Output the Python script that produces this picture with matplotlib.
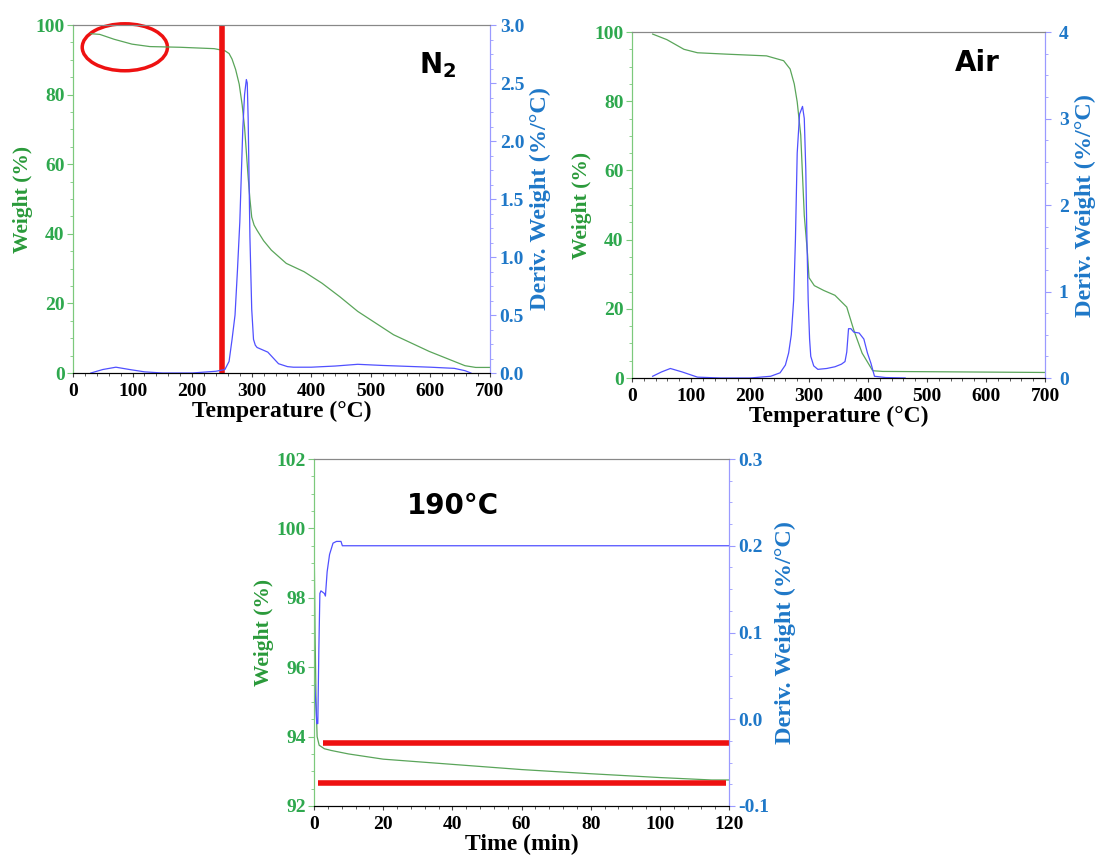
import numpy as np
import matplotlib.pyplot as plt
from matplotlib.patches import Ellipse
from matplotlib.ticker import MultipleLocator

plt.rcParams['font.family'] = ['Liberation Serif', 'DejaVu Serif']

# ---- N2 ----
n2_t = [30, 45, 69, 99, 129, 180, 237, 255, 262, 267, 273, 279, 284, 288, 291, 294, 297,
        300, 304, 309, 320, 333, 358, 388, 418, 448, 478, 538, 598, 658, 676, 700]
n2_w = [97.5, 97.3, 95.9, 94.5, 93.8, 93.6, 93.2, 92.6, 91.8, 90.2, 87.2, 83, 77, 70.6,
        63.5, 56.3, 50, 44.8, 42.5, 41, 38, 35.3, 31.5, 29.1, 25.8, 21.9, 17.7, 11, 6.2,
        2.1, 1.6, 1.6]
n2_dt = [30, 50, 72, 95, 120, 150, 200, 240, 255, 262, 267, 272, 276, 280, 285, 288, 291,
         292.5, 294, 297, 300, 303, 306, 309, 318, 327, 336, 345, 360, 370, 400, 440, 478,
         520, 600, 640, 658, 668, 676, 680]
n2_d = [0.0, 0.03, 0.05, 0.03, 0.01, 0.0, 0.0, 0.015, 0.03, 0.1, 0.29, 0.5, 0.88, 1.3,
        2.1, 2.4, 2.53, 2.5, 2.2, 1.17, 0.55, 0.29, 0.24, 0.22, 0.2, 0.18, 0.13, 0.08,
        0.055, 0.05, 0.05, 0.06, 0.075, 0.065, 0.05, 0.04, 0.02, 0.0, -0.03, -0.04]

# ---- Air ----
air_t = [35, 59, 88, 111, 160, 228, 257, 268, 275, 280, 286, 292, 297.5, 300, 309, 325, 344,
         364, 376, 390, 408, 425, 700]
air_w = [99.4, 97.8, 95, 94, 93.6, 93.1, 91.7, 89.3, 85, 79.8, 70.2, 47, 35.8, 29, 26.7,
         25.3, 23.9, 20.5, 13.8, 7.2, 2.1, 1.9, 1.6]
air_dt = [35, 50, 65, 85, 111, 150, 200, 235, 251, 260, 265.5, 270, 274, 277, 280, 284, 289,
          292, 294.6, 296.5, 298.6, 301, 303, 308, 315, 330, 344, 355, 361, 364, 367, 371,
          376, 385, 393, 399, 405, 411, 430, 463]
air_d = [0.02, 0.07, 0.11, 0.07, 0.01, 0.0, 0.0, 0.02, 0.06, 0.15, 0.29, 0.5, 0.9, 1.6,
         2.6, 3.05, 3.14, 3.0, 2.4, 1.6, 0.9, 0.45, 0.25, 0.14, 0.1, 0.11, 0.13, 0.16, 0.19,
         0.3, 0.57, 0.57, 0.53, 0.52, 0.45, 0.29, 0.17, 0.02, 0.005, 0.0]

# ---- 190 C isotherm ----
iso_t = [0, 0.3, 0.6, 0.9, 1.5, 3, 5, 10, 20, 40, 60, 80, 100, 115, 120]
iso_w = [100, 97, 95, 94, 93.75, 93.65, 93.6, 93.5, 93.35, 93.2, 93.05, 92.93, 92.82,
         92.75, 92.75]
iso_dt = [0.2, 0.5, 0.8, 1.1, 1.4, 1.7, 2.0, 3.0, 3.3, 3.8, 4.5, 5.5, 6.5, 7.8, 8.2, 120]
iso_d = [0.04, 0.02, -0.005, -0.005, 0.08, 0.145, 0.148, 0.145, 0.142, 0.17, 0.19, 0.203,
         0.205, 0.205, 0.2, 0.2]

green = '#2ea84e'
blue = '#1f78c8'
gline = '#5aa55a'
bline = '#5050ff'

W, H = 1102, 860
fig = plt.figure(figsize=(W / 100, H / 100), dpi=100)


def make_axes(rect, xlim, xstep, ylim, ystep, y2lim, y2step, xlabel, title, tx, ty,
              xminor, yminor, y2minor):
    ax = fig.add_axes(rect)
    ax2 = ax.twinx()
    ax.set_xlim(*xlim)
    ax.set_ylim(*ylim)
    ax2.set_ylim(*y2lim)
    ax.xaxis.set_major_locator(MultipleLocator(xstep))
    ax.xaxis.set_minor_locator(MultipleLocator(xminor))
    ax.yaxis.set_major_locator(MultipleLocator(ystep))
    ax.yaxis.set_minor_locator(MultipleLocator(yminor))
    ax2.yaxis.set_major_locator(MultipleLocator(y2step))
    ax2.yaxis.set_minor_locator(MultipleLocator(y2minor))
    for a in (ax, ax2):
        a.spines['left'].set_color('#7cc97c')
        a.spines['right'].set_color('#9a9aff')
        a.spines['top'].set_color('#888888')
        a.spines['bottom'].set_color('black')
    ax.tick_params(axis='x', labelsize=14, length=3, width=0.8, colors='#444444',
                   labelcolor='black', pad=4)
    ax.tick_params(axis='x', which='minor', length=2, colors='#444444')
    ax.tick_params(axis='y', labelsize=14, length=4, colors='#7cc97c', labelcolor=green,
                   pad=2)
    ax.tick_params(axis='y', which='minor', length=2, colors='#7cc97c')
    ax2.tick_params(axis='y', labelsize=14, length=4, colors='#9a9aff', labelcolor=blue,
                    pad=3)
    ax2.tick_params(axis='y', which='minor', length=2, colors='#9a9aff')
    for lab in ax.get_xticklabels() + ax.get_yticklabels() + ax2.get_yticklabels():
        lab.set_fontweight('bold')
    ax.set_xlabel(xlabel, fontsize=17, fontweight='bold', labelpad=1)
    ax.set_ylabel('Weight (%)', fontsize=15.5, fontweight='bold', color='#2a9a3a',
                  labelpad=2)
    ax2.set_ylabel('Deriv. Weight (%/°C)', fontsize=17.5, fontweight='bold', color=blue,
                   labelpad=4)
    ax.text(tx, ty, title, transform=ax.transAxes, fontsize=20, fontweight='bold',
            family='DejaVu Sans', ha='center', va='center')
    return ax, ax2


# panel 1: N2
ax, ax2 = make_axes([73 / W, 1 - 373 / H, 417 / W, 348 / H], (0, 700), 100, (0, 100), 20,
                    (0, 3.0), 0.5, 'Temperature (°C)', 'N$_\\mathbf{2}$', 0.875, 0.885,
                    20, 5, 0.125)
ax2.yaxis.set_major_formatter(lambda v, p: f'{v:.1f}')
ax.plot(n2_t, n2_w, color=gline, lw=0.9)
ax2.plot(n2_dt, n2_d, color=bline, lw=0.9)
ax.axvline(250, color='#ee1111', lw=4)
ax.add_patch(Ellipse((87, 93.6), 143, 13.5, fill=False, ec='#ee1111', lw=2.5,
                     clip_on=False))

# panel 2: Air
ax, ax2 = make_axes([632 / W, 1 - 378 / H, 413 / W, 346 / H], (0, 700), 100, (0, 100), 20,
                    (0, 4), 1, 'Temperature (°C)', 'Air', 0.835, 0.91, 20, 5, 0.25)
ax.plot(air_t, air_w, color=gline, lw=0.9)
ax2.plot(air_dt, air_d, color=bline, lw=0.9)
ax2.tick_params(axis='y', pad=6)

# panel 3: 190 C
ax, ax2 = make_axes([314 / W, 1 - 806 / H, 415 / W, 347 / H], (0, 120), 20, (92, 102), 2,
                    (-0.1, 0.3), 0.1, 'Time (min)', '190°C', 0.335, 0.865, 4, 0.5, 0.025)
ax2.yaxis.set_major_formatter(lambda v, p: f'{v:.1f}')
ax.plot(iso_t, iso_w, color=gline, lw=0.9)
ax2.plot(iso_dt, iso_d, color=bline, lw=0.9)
ax.hlines([93.82, 92.65], [2.6, 1.2], [120, 119], color='#ee1111', lw=4)

fig.savefig('out.png', dpi=100)
